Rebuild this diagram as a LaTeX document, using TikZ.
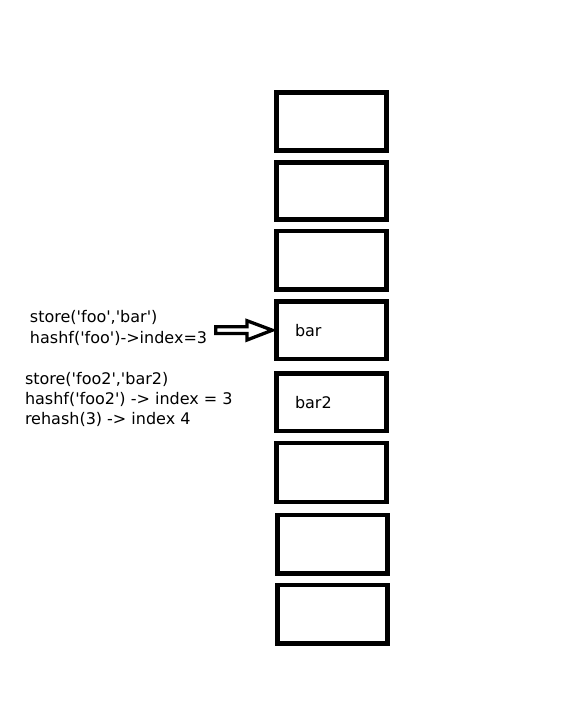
\documentclass[tikz,border=0pt]{standalone}
\usepackage{fontspec}
\setmainfont{DejaVu Sans}
\usetikzlibrary{calc}
\newcommand{\sq}{\textquotesingle}
\begin{document}
\begin{tikzpicture}[x=1pt,y=-1pt,
  slot/.style={draw=black,line width=4.6pt,rectangle,inner sep=0pt,outer sep=0pt,minimum width=110pt},
  txt/.style={anchor=base west,inner sep=0pt,outer sep=0pt,font=\fontsize{16}{19}\selectfont},
  blockarrow/.style={draw=black,line width=3.3pt,fill=white,line join=miter}]
\path[use as bounding box,fill=white] (0,0) rectangle (580,702);
% slots
\node[slot,minimum height=58pt] (b1) at (331.3,121.3) {};
\node[slot,minimum height=57.4pt] (b2) at (331.3,191) {};
\node[slot,minimum height=58.7pt] (b3) at (331.3,260.3) {};
\node[slot,minimum height=57.7pt] (b4) at (331.3,330.2) {};
\node[slot,minimum height=57.4pt] (b5) at (331.3,402.3) {};
\node[slot,minimum height=59pt] (b6) at (331.3,472.5) {};
\node[slot,minimum height=58.9pt] (b7) at (332.6,544.3) {};
\node[slot,minimum height=58.7pt] (b8) at (332.4,614.4) {};
% slot contents
\node[txt] (v4) at (295,336) {bar};
\node[txt] (v5) at (295,408) {bar2};
% notes
\node[txt] (n1) at (30,322) {store(\sq foo\sq,\sq bar\sq)};
\node[txt] (n2) at (30,343) {hashf(\sq foo\sq)->index=3};
\node[txt] (n3) at (25,384) {store(\sq foo2\sq,\sq bar2)};
\node[txt] (n4) at (25,404) {hashf(\sq foo2\sq) -> index = 3};
\node[txt] (n5) at (25,424) {rehash(3) -> index 4};
% block arrow pointing at slot 4
\coordinate (tip) at ($(b4.west)+(-4,0)$);
\draw[blockarrow] (215.7,326.7) -- (247,326.7) -- (247,320.7) -- (tip) -- (247,340) -- (247,333.5) -- (215.7,333.5) -- cycle;
\end{tikzpicture}
\end{document}
